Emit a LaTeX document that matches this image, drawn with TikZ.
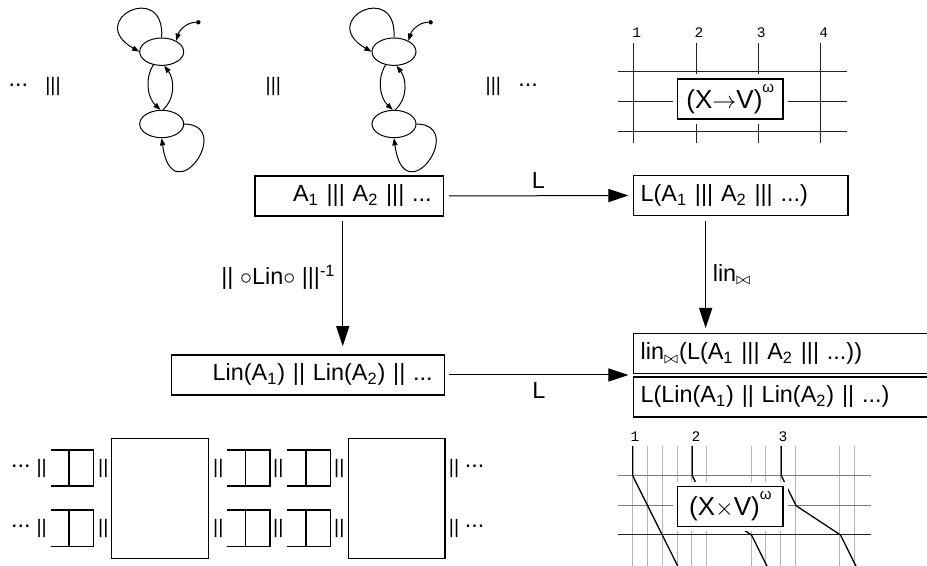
\documentclass[tikz,border=0pt]{standalone}
\usepackage{fontspec}
\setmainfont{Liberation Sans}
\newfontfamily\gridfont{Liberation Mono}
\definecolor{LaneGray}{HTML}{B4B4B4}
\definecolor{RowGray}{HTML}{7A7A7A}
\definecolor{WireBlack}{HTML}{222222}
\usetikzlibrary{shapes.geometric, arrows.meta}
\newcommand{\boxfont}{\fontsize{11.7}{14}\selectfont}
\newcommand{\barfont}{\fontsize{9.8}{12}\selectfont}
\newcommand{\numfont}{\gridfont\fontsize{7.3}{9}\selectfont}
\newcommand{\omegasup}{\raisebox{1.15ex}{\fontsize{7.5}{8}\selectfont ω}}
\tikzset{
    termbox/.style={
        draw=black,
        line width=0.65pt,
        font=\boxfont,
        inner xsep=5.8pt,
        inner ysep=2pt,
        minimum height=20pt,
        align=right
    },
    langbox/.style={
        termbox,
        inner xsep=3.65pt,
        align=left
    },
    locstate/.style={
        ellipse,
        draw=black,
        line width=0.5pt,
        minimum width=22pt,
        minimum height=13.7pt,
        inner sep=0pt
    },
    initdot/.style={
        circle,
        fill=black,
        inner sep=0pt,
        minimum size=2.2pt
    },
    smallarrow/.style={
        -{Triangle[length=3.6pt,width=2.6pt]},
        line width=0.5pt
    },
    arrow/.style={
        -{Triangle[length=10pt,width=6.6pt]},
        line width=0.5pt,
        black
    },
    lbl/.style={
        font=\boxfont
    },
    bars/.style={
        font=\barfont,
        inner sep=0pt
    },
    etcdots/.style={
        font=\boxfont,
        inner sep=0pt
    },
    gridbox/.style={
        draw=black,
        fill=white,
        line width=0.6pt,
        preaction={draw=white, line width=4.6pt},
        font=\fontsize{13}{15}\selectfont,
        minimum width=52.65pt,
        minimum height=20pt,
        inner sep=0pt
    },
    gridnum/.style={
        font=\numfont,
        inner sep=0pt
    },
    wire/.style={line width=0.5pt, WireBlack},
    lane/.style={line width=0.5pt, LaneGray},
    rowline/.style={line width=0.5pt, RowGray},
    trace/.style={line width=0.65pt, black},
    queue/.style={line width=0.55pt, black}
}

\begin{document}
\begin{tikzpicture}[x=0.5pt, y=-0.5pt]
        \useasboundingbox (0,0) rectangle (927,566);

        % Automata
        \foreach \dx/\n in {0/a, 232.3/b}{
            \begin{scope}[shift={(\dx,0)}]
                \node[locstate] (top\n) at (161.7,51.7) {};
                \node[locstate] (bot\n) at (161.7,124) {};
                \node[initdot] (init\n) at (198.3,22.3) {};
                \draw[smallarrow] (init\n) .. controls +(-12,0) and +(3,-10) .. (top\n.37);
                \draw[smallarrow] (top\n.north) .. controls +(3.3,-57.7) and +(-54.7,-31.7) .. (top\n.west);
                \draw[smallarrow] (top\n.238) .. controls +(-9,13) and +(-13,-12) .. (bot\n.95);
                \draw[smallarrow] (bot\n.85) .. controls +(13,-12) and +(10,13) .. (top\n.280);
                \draw[smallarrow] (bot\n.east) .. controls +(51.3,1) and +(10.3,77.3) .. (bot\n.south);
            \end{scope}
        }
        \node[etcdots] (etcA) at (18.3,85) {...};
        \node[bars] (parA) at (53,86.5) {|||};
        \node[bars] (parB) at (273.3,86.5) {|||};
        \node[bars] (parC) at (493.3,86.5) {|||};
        \node[etcdots] (etcB) at (528,85) {...};

        % Untimed grid
        \foreach \x [count=\i] in {633.7,696,758.3,820.7}{
            \draw[wire] (\x,43) -- (\x,143);
            \node[gridnum] (tnum\i) at ({\x+3},33) {\i};
        }
        \foreach \y in {72,102,132}
            \draw[wire] (618,\y) -- (847,\y);
        \node[gridbox] (topbox) at (730.3,99) {(X$\rightarrow$V)\omegasup};

        % Terms and languages
        \node[termbox, text width=82.55pt] (prod) at (349.15,196) {A\textsubscript{1} ||| A\textsubscript{2} ||| ...};
        \node[langbox, anchor=west, text width=100pt] (lang) at (632.7,195.5) {L(A\textsubscript{1} ||| A\textsubscript{2} ||| ...)};
        \node[termbox, text width=124.7pt] (linprod) at (308,375) {Lin(A\textsubscript{1}) || Lin(A\textsubscript{2}) || ...};
        \node[langbox, anchor=west, text width=140.35pt] (linlang) at (632.7,353.65) {lin$_{\bowtie}$(L(A\textsubscript{1} ||| A\textsubscript{2} ||| ...))};
        \node[langbox, anchor=west, text width=140.35pt] (langlin) at (632.7,397) {L(Lin(A\textsubscript{1}) || Lin(A\textsubscript{2}) || ...)};

        \draw[arrow, shorten <=2.5pt, shorten >=2.2pt] (prod.east) -- node[lbl, above] (lblTop) {L} (lang.west);
        \draw[arrow, shorten <=1.9pt, shorten >=2.2pt] (linprod.east) -- node[lbl, below] (lblBot) {L} (linprod.east -| linlang.west);
        \draw[arrow, shorten <=2.35pt, shorten >=4.15pt] ([xshift=-3.2pt]prod.south) -- node[lbl, left, pos=0.44] (lblLin) {|| $\circ$Lin$\circ$ |||\textsuperscript{-1}} ([xshift=-3.2pt]prod.south |- linprod.north);
        \draw[arrow, shorten <=2.5pt, shorten >=2.5pt] ([xshift=-17.5pt]lang.south) -- node[lbl, right, pos=0.5] (lblJoin) {lin$_{\bowtie}$} ([xshift=-17.5pt]lang.south |- linlang.north);

        % Queues and components
        \foreach \xl/\xm/\xr in {50.7/69/93.3, 227.3/245.7/270, 287.3/306/330.7}
            \foreach \yt/\yb in {450/486, 510/546.7}{
                \draw[queue] (\xl,\yt) -- (\xr,\yt) -- (\xr,\yb) -- (\xl,\yb);
                \draw[queue] (\xm,\yt) -- (\xm,\yb);
            }
        \draw[queue] (111.7,438.3) rectangle (208.3,558.3);
        \draw[queue] (348.3,438.3) rectangle (445,558.3);
        \foreach \x [count=\i] in {41.7,103.3,218.3,278.3,339.3,454}{
            \node[bars] (parU\i) at (\x,468) {||};
            \node[bars] (parD\i) at (\x,528.3) {||};
        }
        \node[etcdots] (etcUL) at (20.8,466) {...};
        \node[etcdots] (etcDL) at (20.8,526.7) {...};
        \node[etcdots] (etcUR) at (474.5,466) {...};
        \node[etcdots] (etcDR) at (474.5,526.7) {...};

        % Timed grid
        \foreach \k in {0,1,2,3,4,5,8,9,10,11,14,15}
            \draw[lane] ({632.7+14.8*\k},446) -- ({632.7+14.8*\k},570);
        \draw[rowline] (618,475.7) -- (870.7,475.7);
        \draw[rowline] (618,505.7) -- (870.7,505.7);
        \draw[wire] (618,535) -- (870.7,535);
        \draw[trace] (632.7,446) -- (632.7,475.7) -- (679.7,570);
        \draw[trace] (692.3,446) -- (692.3,475.7) -- (707.1,505.7) -- (751.5,535) -- (768.9,570);
        \draw[trace] (781.3,446) -- (781.3,475.7) -- (796.1,505.7) -- (840.5,535) -- (857.9,570);
        \node[gridbox] (botbox) at (730.3,506.2) {(X$\times$V)\omegasup};
        \node[gridnum] (bnum1) at (635,437) {1};
        \node[gridnum] (bnum2) at (696,437) {2};
        \node[gridnum] (bnum3) at (783,437) {3};
    \end{tikzpicture}
\end{document}
